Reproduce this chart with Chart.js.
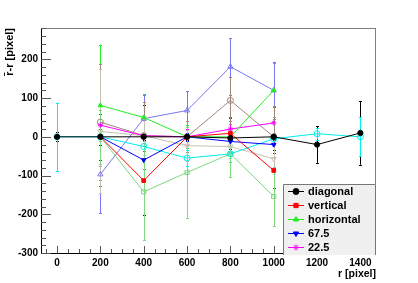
<!DOCTYPE html>
<html><head><meta charset="utf-8">
<script src="https://cdn.jsdelivr.net/npm/chart.js@4/dist/chart.umd.min.js"></script>
<style>html,body{margin:0;padding:0;background:#fff}canvas{display:block}</style>
</head><body>
<canvas id="c" width="418" height="283"></canvas>
<script>
// ---- data ----
const xAll = [0, 200, 400, 600, 800, 1000, 1200, 1400];
const xMid = [200, 400, 600, 800, 1000];
const xTicks = [0, 200, 400, 600, 800, 1000, 1200, 1400];
const yTicks = [-300, -200, -100, 0, 100, 200];

const diagonalY   = [0, 0, 0, 0, -3, 0, -20, 10];
const diagonalErr = [12, 6, 8, 8, 8, 8, 47, 82];
const verticalY   = [0, -113, 0, 9, -87];
const verticalErr = [60, 90, 30, 40, 45];
const horizontalY   = [81, 50, 0, 0, 120];
const horizontalErr = [157, 60, 30, 40, 70];
const deg675Y   = [0, -60, 0, -12, -20];
const deg675Err = [20, 143, 10, 20, 15];
const deg225Y   = [30, 3, 0, 20, 36];
const deg225Err = [158, 40, 20, 30, 40];
const cyanY   = [0, 0, -25, -55, -44, -5, 8, 0];
const cyanErr = [88, 10, 30, 20, 20, 15, 15, 50];
const ltBlueY   = [-97, 47, 68, 181, 120];
const ltBlueErr = [100, 62, 50, 73, 74];
const brownY   = [38, 3, 0, 94, 0];
const brownErr = [150, 87, 40, 60, 80];
const beigeY   = [14, 3, -23, -25, -57];
const beigeErr = [160, 50, 40, 30, 40];
const ltGreenY   = [0, -142, -92, -44, -154];
const ltGreenErr = [70, 125, 117, 60, 76];

const legendCount = 5;

function pts(xs, ys) { return xs.map((x, i) => ({x: x, y: ys[i]})); }

function ds(label, xs, ys, errs, color, style, filled, rot) {
  return {
    label: label, data: pts(xs, ys), errors: errs,
    showLine: true, borderColor: color, borderWidth: 1,
    pointStyle: style, pointRotation: rot || 0, pointRadius: filled ? 2.6 : 3,
    pointBorderColor: color, pointBorderWidth: 1,
    pointBackgroundColor: filled ? color : 'rgba(0,0,0,0)',
    backgroundColor: filled ? color : 'rgba(0,0,0,0)'
  };
}

const datasets = [
  ds('diagonal', xAll, diagonalY, diagonalErr, '#000000', 'circle', true),
  ds('vertical', xMid, verticalY, verticalErr, '#ff0000', 'rect', true),
  ds('horizontal', xMid, horizontalY, horizontalErr, '#22ee22', 'triangle', true),
  ds('67.5', xMid, deg675Y, deg675Err, '#0000ff', 'triangle', true, 180),
  ds('22.5', xMid, deg225Y, deg225Err, '#ff00ff', 'star', true),
  ds('cyan', xAll, cyanY, cyanErr, '#00eeee', 'circle', false),
  ds('ltblue', xMid, ltBlueY, ltBlueErr, '#7878f0', 'triangle', false),
  ds('brown', xMid, brownY, brownErr, '#a08878', 'circle', false),
  ds('beige', xMid, beigeY, beigeErr, '#c8c0b0', 'triangle', false, 180),
  ds('ltgreen', xMid, ltGreenY, ltGreenErr, '#7ed87e', 'rect', false)
];

const FONT = 'Liberation Sans';

const rootPlugin = {
  id: 'rootStyle',
  beforeDatasetsDraw(chart) {
    const ctx = chart.ctx, ca = chart.chartArea;
    const xs = chart.scales.x, ys = chart.scales.y;
    ctx.save();
    ctx.beginPath(); ctx.rect(ca.left, ca.top, ca.right - ca.left, ca.bottom - ca.top); ctx.clip();
    chart.data.datasets.forEach(d => {
      ctx.strokeStyle = d.borderColor; ctx.lineWidth = 1;
      d.data.forEach((p, i) => {
        const e = d.errors[i];
        const px = Math.round(xs.getPixelForValue(p.x)) + 0.5;
        const y1 = ys.getPixelForValue(p.y + e), y2 = ys.getPixelForValue(p.y - e);
        ctx.beginPath();
        ctx.moveTo(px, y1); ctx.lineTo(px, y2);
        ctx.moveTo(px - 1.5, Math.round(y1) + 0.5); ctx.lineTo(px + 1.5, Math.round(y1) + 0.5);
        ctx.moveTo(px - 1.5, Math.round(y2) + 0.5); ctx.lineTo(px + 1.5, Math.round(y2) + 0.5);
        ctx.stroke();
      });
    });
    ctx.restore();
  },
  afterDatasetsDraw(chart) {
    const ctx = chart.ctx, ca = chart.chartArea;
    const xs = chart.scales.x, ys = chart.scales.y;
    ctx.save();
    // frame
    ctx.strokeStyle = '#808080'; ctx.lineWidth = 1;
    ctx.strokeRect(ca.left + 0.5, ca.top + 0.5, ca.right - ca.left - 1, ca.bottom - ca.top);
    // axes
    ctx.strokeStyle = '#000';
    ctx.beginPath();
    ctx.moveTo(ca.left + 0.5, ca.top); ctx.lineTo(ca.left + 0.5, ca.bottom + 0.5);
    ctx.lineTo(ca.right, ca.bottom + 0.5);
    ctx.stroke();
    // y ticks (inside)
    ctx.strokeStyle = '#555';
    ctx.beginPath();
    for (let v = -300; v <= 280; v += 20) {
      const py = Math.round(ys.getPixelForValue(v)) + 0.5;
      const len = (v % 100 === 0) ? 10 : 5;
      ctx.moveTo(ca.left, py); ctx.lineTo(ca.left + len, py);
    }
    // x ticks (inside)
    for (let v = -50; v <= 1450; v += 50) {
      const px = Math.round(xs.getPixelForValue(v)) + 0.5;
      const len = (v % 200 === 0) ? 7 : 4;
      ctx.moveTo(px, ca.bottom); ctx.lineTo(px, ca.bottom - len);
    }
    ctx.stroke();

    // legend
    const lx = ca.right - 93, ly = 184, lw = 93, lh = ca.bottom + 2 - ly;
    ctx.fillStyle = '#f0f0f0';
    ctx.fillRect(lx, ly, lw, lh);
    ctx.strokeStyle = '#777';
    ctx.beginPath();
    ctx.moveTo(lx + 0.5, ly + lh); ctx.lineTo(lx + 0.5, ly + 0.5); ctx.lineTo(lx + lw - 0.5, ly + 0.5); ctx.lineTo(lx + lw - 0.5, ly + lh);
    ctx.stroke();
    ctx.font = 'bold 11px ' + FONT;
    ctx.textBaseline = 'middle'; ctx.textAlign = 'left';
    chart.data.datasets.slice(0, legendCount).forEach((d, i) => {
      const cy = ly + 7 + i * 14;
      ctx.strokeStyle = d.borderColor; ctx.lineWidth = 1;
      ctx.beginPath(); ctx.moveTo(lx + 5, cy + 0.5); ctx.lineTo(lx + 21, cy + 0.5); ctx.stroke();
      ctx.fillStyle = d.pointBackgroundColor; ctx.strokeStyle = d.pointBorderColor;
      Chart.helpers.drawPoint(ctx, {pointStyle: d.pointStyle, radius: 3, rotation: d.pointRotation, borderWidth: 1}, lx + 13, cy + 0.5);
      ctx.fillStyle = '#000';
      ctx.fillText(d.label, lx + 25, cy + 1);
    });

    // axis titles
    ctx.fillStyle = '#000';
    ctx.font = 'bold 10.5px ' + FONT;
    ctx.textAlign = 'right'; ctx.textBaseline = 'middle';
    ctx.fillText('r [pixel]', ca.right, 274);
    ctx.translate(10, ca.top);
    ctx.rotate(-Math.PI / 2);
    ctx.font = 'bold 11px ' + FONT;
    ctx.fillText('r\u0304-r [pixel]', 0, 0);
    ctx.restore();
  }
};

Chart.defaults.font.family = FONT;

new Chart(document.getElementById('c'), {
  type: 'scatter',
  data: { datasets: datasets },
  options: {
    responsive: false, animation: false, devicePixelRatio: 1,
    layout: { padding: { left: 0, top: 28, right: 42, bottom: 0 } },
    plugins: { legend: { display: false }, tooltip: { enabled: false } },
    scales: {
      x: {
        type: 'linear', min: -74, max: 1472,
        grid: { display: false, drawTicks: false }, border: { display: false },
        afterBuildTicks: s => { s.ticks = xTicks.map(v => ({ value: v })); },
        afterFit: s => { s.height = 30; },
        ticks: { color: '#000', padding: 4, maxRotation: 0, autoSkip: false,
                 callback: v => String(v),
                 font: { family: FONT, weight: 'bold', size: 10 } }
      },
      y: {
        type: 'linear', min: -300, max: 281,
        grid: { display: false, drawTicks: false }, border: { display: false },
        afterBuildTicks: s => { s.ticks = yTicks.map(v => ({ value: v })); },
        afterFit: s => { s.width = 41; },
        ticks: { color: '#000', padding: 3, autoSkip: false,
                 callback: v => String(v),
                 font: { family: FONT, weight: 'bold', size: 10 } }
      }
    }
  },
  plugins: [rootPlugin]
});
</script>
</body></html>
